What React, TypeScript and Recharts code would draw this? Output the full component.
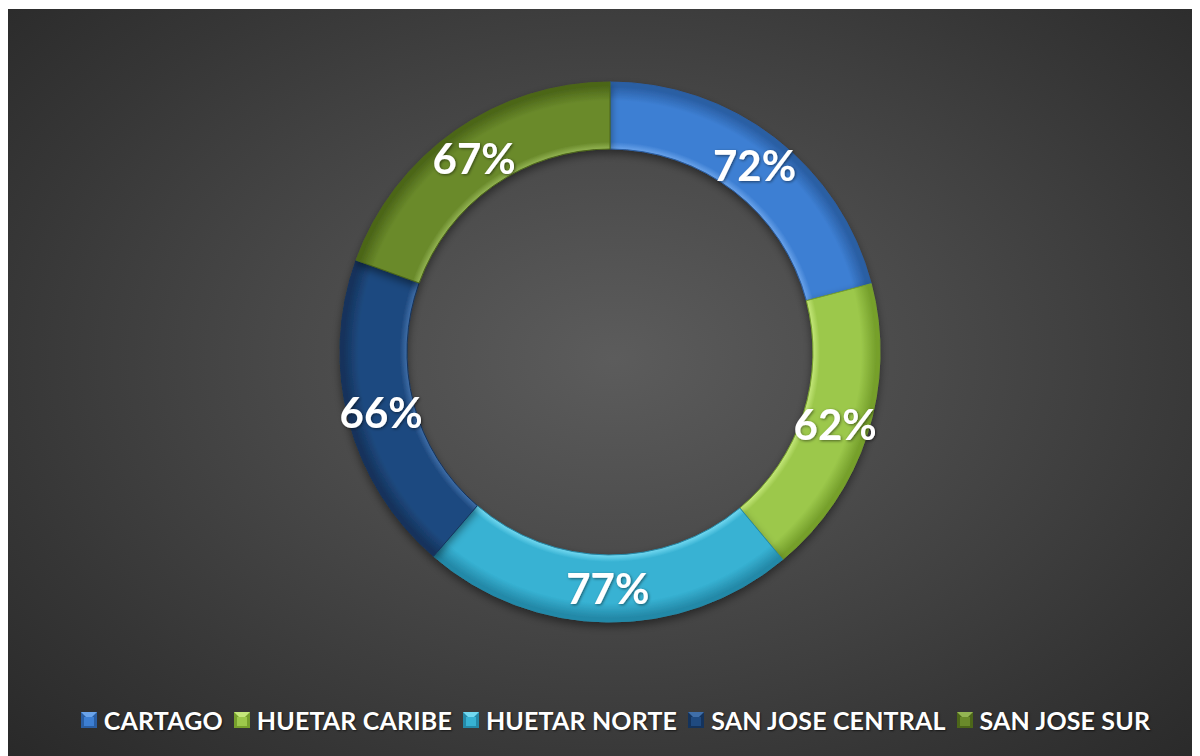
import React from "react";
import { PieChart, Pie, Cell, Legend } from "recharts";

const categories = ["CARTAGO", "HUETAR CARIBE", "HUETAR NORTE", "SAN JOSE CENTRAL", "SAN JOSE SUR"];
const values = [72, 62, 77, 66, 67];
const colors = ["#3d7fd3", "#9cc84b", "#37b2d3", "#1f4a80", "#6a8a2b"];
const lightColors = ["#6aa3ea", "#c4e77a", "#72d8f0", "#3f6ea8", "#93b453"];
const darkColors = ["#2a5ea3", "#76a02c", "#2489a8", "#14335c", "#4c6619"];

const data = categories.map((name, i) => ({ name, value: values[i] }));

const W = 1189;
const H = 760;
const CX = 602;
const CY = 343;
const IR = 203;
const OR = 270;
const RADIAN = Math.PI / 180;

const renderLabel = (props: any) => {
  const { cx, cy, midAngle, innerRadius, outerRadius, value } = props;
  const r = (innerRadius + outerRadius) / 2;
  const x = cx + r * Math.cos(-midAngle * RADIAN);
  const y = cy + r * Math.sin(-midAngle * RADIAN);
  return (
    <text
      x={x}
      y={y}
      fill="#ffffff"
      textAnchor="middle"
      dominantBaseline="central"
      style={{ fontFamily: "Lato, 'Open Sans', sans-serif", fontWeight: 700, fontSize: 42, filter: "url(#txtShadow)" }}
    >
      {value}%
    </text>
  );
};

const LegendContent = () => (
  <div
    style={{
      display: "flex",
      justifyContent: "center",
      alignItems: "center",
      gap: 11,
      fontFamily: "Lato, 'Open Sans', sans-serif",
      fontWeight: 700,
      fontSize: 25,
      letterSpacing: 0.15,
      color: "#ffffff",
      textShadow: "1px 1px 2px rgba(0,0,0,0.6)",
      paddingLeft: 26,
    }}
  >
    {categories.map((c, i) => (
      <div key={c} style={{ display: "flex", alignItems: "center", gap: 7 }}>
        <svg width={16} height={16}>
          <rect x={0} y={0} width={16} height={16} fill={darkColors[i]} />
          <polygon points="0,0 16,0 8,8" fill={lightColors[i]} />
          <rect x={3} y={5} width={10} height={9} fill={colors[i]} />
        </svg>
        <span>{c}</span>
      </div>
    ))}
  </div>
);

export default function App() {
  return (
    <div
      style={{
        marginTop: 1,
        width: W,
        height: H,
        background:
          "radial-gradient(ellipse 75% 80% at 51% 46%, #5c5c5c 0%, #4a4a4a 35%, #363636 70%, #262626 100%)",
        overflow: "hidden",
      }}
    >
      <PieChart width={W} height={H} margin={{ top: 0, right: 0, bottom: 0, left: 0 }}>
        <defs>
          <filter id="ringShadow" x="-20%" y="-20%" width="140%" height="140%">
            <feDropShadow dx="0" dy="4" stdDeviation="4" floodColor="#000" floodOpacity="0.45" />
          </filter>
          <filter id="txtShadow" x="-20%" y="-20%" width="140%" height="140%">
            <feDropShadow dx="1" dy="1" stdDeviation="1.5" floodColor="#000" floodOpacity="0.5" />
          </filter>
          {colors.map((c, i) => (
            <radialGradient key={i} id={`seg${i}`} gradientUnits="userSpaceOnUse" cx={CX} cy={CY} r={OR}>
              <stop offset={IR / OR} stopColor={lightColors[i]} />
              <stop offset={(IR + 7) / OR} stopColor={c} />
              <stop offset={0.93} stopColor={c} />
              <stop offset={0.985} stopColor={darkColors[i]} />
              <stop offset={1} stopColor={darkColors[i]} />
            </radialGradient>
          ))}
        </defs>
        <Pie
          data={data}
          dataKey="value"
          nameKey="name"
          cx={CX}
          cy={CY}
          innerRadius={IR}
          outerRadius={OR}
          startAngle={90}
          endAngle={-270}
          isAnimationActive={false}
          label={renderLabel}
          labelLine={false}
          style={{ filter: "url(#ringShadow)" }}
        >
          {data.map((d, i) => (
            <Cell key={d.name} fill={`url(#seg${i})`} stroke={darkColors[i]} strokeWidth={1} />
          ))}
        </Pie>
        <Legend
          content={<LegendContent />}
          wrapperStyle={{ position: "absolute", top: 696, left: 0, width: W }}
        />
      </PieChart>
    </div>
  );
}
